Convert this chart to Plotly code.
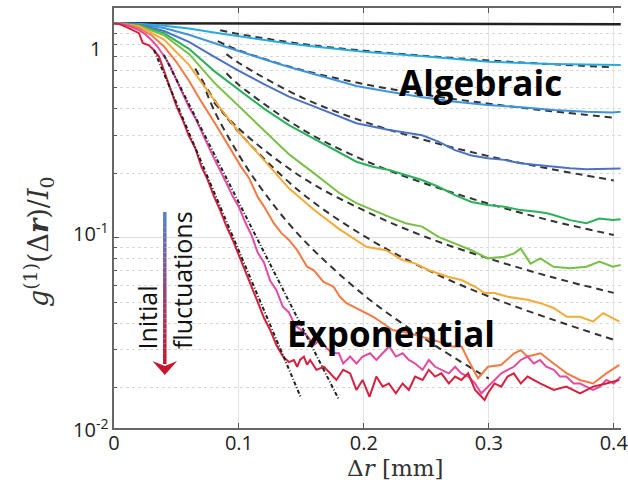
import plotly.graph_objects as go

# ---------------- data ----------------
x_black = [0, 0.1, 0.2, 0.3, 0.4056]
y_black = [1.0, 0.998, 0.995, 0.992, 0.99]

x_cyan = [0, 0.02, 0.04, 0.06, 0.08, 0.1, 0.12, 0.14, 0.16, 0.18, 0.2, 0.25, 0.3, 0.35, 0.4, 0.4056]
y_cyan = [1, 0.995, 0.975, 0.945, 0.905, 0.87, 0.835, 0.805, 0.78, 0.757, 0.737, 0.70, 0.662, 0.646, 0.64, 0.639]

x_blue = [0, 0.02, 0.04, 0.06, 0.08, 0.1, 0.12, 0.14, 0.16, 0.18, 0.194, 0.22, 0.247, 0.273, 0.299, 0.326, 0.352, 0.378, 0.399, 0.4055]
y_blue = [1, 0.99, 0.95, 0.885, 0.81, 0.74, 0.68, 0.625, 0.58, 0.54, 0.51, 0.48, 0.452, 0.431, 0.416, 0.406, 0.394, 0.387, 0.384, 0.387]

x_dblue = [0, 0.02, 0.04, 0.06, 0.08, 0.1, 0.12, 0.14, 0.16, 0.18, 0.194, 0.2203, 0.2466, 0.2597, 0.2729, 0.2861,
           0.2992, 0.3124, 0.3255, 0.3387, 0.3518, 0.365, 0.3781, 0.3992, 0.4055]
y_dblue = [1, 0.985, 0.92, 0.82, 0.70, 0.60, 0.52, 0.455, 0.41, 0.37, 0.3417, 0.3179, 0.3006, 0.2806, 0.2562, 0.242,
           0.2345, 0.2307, 0.2223, 0.2182, 0.2142, 0.2106, 0.2085, 0.2085, 0.21]

x_green = [0, 0.02, 0.04, 0.06, 0.08, 0.1, 0.12, 0.14, 0.16, 0.18, 0.194, 0.2071, 0.2203, 0.2334, 0.2466, 0.2597,
           0.2729, 0.2861, 0.2992, 0.3124, 0.3255, 0.3387, 0.3466, 0.3518, 0.365, 0.3781, 0.3886, 0.3992, 0.4055]
y_green = [1, 0.98, 0.90, 0.76, 0.60, 0.49, 0.40, 0.335, 0.29, 0.25, 0.2262, 0.2144, 0.207, 0.1962, 0.1858, 0.1728,
           0.158, 0.1468, 0.142, 0.1395, 0.1345, 0.132, 0.13, 0.1276, 0.1208, 0.1168, 0.1229, 0.1208, 0.122]

x_lgreen = [0, 0.02, 0.04, 0.06, 0.08, 0.1, 0.12, 0.14, 0.16, 0.18, 0.194, 0.2071, 0.2203, 0.2334, 0.2466, 0.2597,
            0.2729, 0.2861, 0.2992, 0.3124, 0.3203, 0.3255, 0.3334, 0.3413, 0.3518, 0.365, 0.3781, 0.3886, 0.3992, 0.4055]
y_lgreen = [1, 0.975, 0.88, 0.72, 0.53, 0.41, 0.32, 0.245, 0.20, 0.162, 0.145, 0.1345, 0.125, 0.1168, 0.1127, 0.1009,
            0.094, 0.0874, 0.0801, 0.0815, 0.0845, 0.0892, 0.0757, 0.0801, 0.0732, 0.072, 0.0732, 0.0774, 0.0732, 0.0746]

x_yellow = [0, 0.02, 0.04, 0.06, 0.08, 0.1, 0.12, 0.14, 0.16, 0.18, 0.2019, 0.2177, 0.2308, 0.2414, 0.2519, 0.2677,
            0.2782, 0.2887, 0.2966, 0.3045, 0.3151, 0.3308, 0.3414, 0.3519, 0.3624, 0.373, 0.3835, 0.3914, 0.4045]
y_yellow = [1, 0.97, 0.84, 0.64, 0.44, 0.31, 0.23, 0.17, 0.135, 0.11, 0.0907, 0.0875, 0.0786, 0.0757, 0.0705, 0.0656,
            0.0635, 0.0592, 0.0552, 0.0552, 0.053, 0.0514, 0.0495, 0.047, 0.0428, 0.0428, 0.0406, 0.0445, 0.0406]

x_orange = [0, 0.01, 0.02, 0.03, 0.04, 0.05, 0.06, 0.07, 0.0808, 0.09, 0.1018, 0.108, 0.115, 0.12, 0.128, 0.134,
            0.14, 0.1466, 0.1545, 0.16, 0.1677, 0.1756, 0.1808, 0.1861, 0.1966, 0.2072, 0.215, 0.2229, 0.235,
            0.2466, 0.258, 0.2703, 0.2782, 0.2835, 0.2914, 0.2993, 0.3098, 0.3203, 0.3256, 0.3308, 0.3414,
            0.3519, 0.3624, 0.373, 0.3835, 0.394, 0.4045]
y_orange = [1, 0.99, 0.95, 0.88, 0.78, 0.66, 0.54, 0.43, 0.342, 0.28, 0.214, 0.19, 0.155, 0.14, 0.1165, 0.105,
            0.0976, 0.0875, 0.0732, 0.0705, 0.0622, 0.0592, 0.053, 0.0495, 0.046, 0.0428, 0.040, 0.0371, 0.036,
            0.0345, 0.033, 0.0311, 0.0311, 0.0269, 0.0221, 0.025, 0.0255, 0.0289, 0.0299, 0.0279, 0.0289,
            0.0259, 0.0233, 0.0217, 0.0209, 0.0233, 0.0255]

x_magenta = [0, 0.01, 0.02, 0.025, 0.03, 0.035, 0.04, 0.045, 0.05, 0.055, 0.06, 0.065, 0.07, 0.075, 0.08, 0.085,
             0.09, 0.095, 0.1, 0.105, 0.11, 0.115, 0.12, 0.125, 0.13, 0.135, 0.14, 0.145, 0.15, 0.155, 0.16,
             0.165, 0.17, 0.175, 0.18, 0.1835, 0.189, 0.194,
             0.199, 0.205, 0.21, 0.215, 0.2203, 0.2256, 0.231, 0.236, 0.241, 0.247, 0.252, 0.257, 0.262, 0.268,
             0.273, 0.278, 0.2835, 0.289, 0.294, 0.2993, 0.3045, 0.31, 0.315, 0.32, 0.3256, 0.331, 0.336, 0.341,
             0.346, 0.352, 0.357, 0.362, 0.368, 0.373, 0.378, 0.3835, 0.389, 0.394, 0.4, 0.4055]
y_magenta = [1, 0.98, 0.93, 0.89, 0.836, 0.775, 0.704, 0.632, 0.544, 0.473, 0.407, 0.362, 0.311, 0.271, 0.235, 0.207,
             0.18, 0.156, 0.139, 0.118, 0.103, 0.0852, 0.0767, 0.0629, 0.0569, 0.0478, 0.0448, 0.039, 0.037, 0.0346, 0.0316,
             0.0334, 0.0306, 0.029, 0.0289, 0.0259, 0.0279, 0.0259,
             0.0279, 0.0289, 0.0269, 0.0289, 0.0311, 0.0279, 0.0289, 0.0269, 0.0259, 0.0242, 0.0269, 0.025, 0.0242, 0.0233,
             0.025, 0.0233, 0.0225, 0.0209, 0.0188, 0.0202, 0.0217, 0.0233, 0.0242, 0.025, 0.0269, 0.0279, 0.0259, 0.0269,
             0.025, 0.0242, 0.0225, 0.0225, 0.0209, 0.0209, 0.0202, 0.0195, 0.0202, 0.0217, 0.0209, 0.0225]

x_red = [0, 0.005, 0.01, 0.015, 0.02, 0.023, 0.028, 0.032, 0.036, 0.041, 0.045, 0.05, 0.055, 0.06, 0.065, 0.07,
         0.075, 0.08, 0.085, 0.09, 0.095, 0.1, 0.105, 0.11, 0.115, 0.12, 0.125, 0.13, 0.135, 0.14, 0.144, 0.1466,
         0.149, 0.152, 0.1545, 0.157, 0.162, 0.168, 0.173, 0.178, 0.1835, 0.189, 0.194, 0.199, 0.2045, 0.21,
         0.215, 0.22, 0.2256, 0.231, 0.236, 0.241, 0.247, 0.252, 0.257, 0.262, 0.268, 0.273, 0.278, 0.2835,
         0.289, 0.294, 0.2966, 0.2993, 0.3045, 0.31, 0.315, 0.32, 0.3256, 0.331, 0.341, 0.352, 0.362, 0.373,
         0.378, 0.3835, 0.394, 0.4045]
y_red = [1.0, 0.99, 0.96, 0.93, 0.90, 0.81, 0.79, 0.75, 0.70, 0.58, 0.50, 0.411, 0.354, 0.298, 0.262, 0.214,
         0.186, 0.156, 0.134, 0.113, 0.0976, 0.0822, 0.0693, 0.0588, 0.0502, 0.0423, 0.0371, 0.0316, 0.028, 0.0263, 0.0269, 0.025,
         0.027, 0.0279, 0.0256, 0.0269, 0.0242, 0.025, 0.0233, 0.0217, 0.0242, 0.0233, 0.0195, 0.0217, 0.0181, 0.0225,
         0.0202, 0.0209, 0.0188, 0.0209, 0.0195, 0.0225, 0.0217, 0.0242, 0.0225, 0.0233, 0.0209, 0.0225, 0.0217, 0.0233,
         0.0195, 0.0181, 0.0175, 0.0188, 0.0209, 0.0202, 0.0225, 0.0233, 0.0209, 0.0225, 0.0209, 0.0195, 0.0202, 0.0188,
         0.0195, 0.0202, 0.0209, 0.0217]

# fitted curves (dashed): algebraic fits
fit_alg_x = [
    [0.085, 0.1, 0.15, 0.2, 0.25, 0.3, 0.35, 0.4],
    [0.083, 0.1, 0.15, 0.2, 0.25, 0.3, 0.35, 0.4],
    [0.09, 0.1, 0.15, 0.2, 0.25, 0.3, 0.35, 0.4],
    [0.09, 0.1, 0.15, 0.2, 0.25, 0.3, 0.35, 0.4],
    [0.08, 0.1, 0.15, 0.2, 0.25, 0.3, 0.35, 0.4],
    [0.065, 0.08, 0.1, 0.15, 0.2, 0.25, 0.3, 0.35, 0.4],
    [0.0705, 0.08, 0.1, 0.12, 0.15, 0.2, 0.25, 0.3],
]
fit_alg_y = [
    [0.928, 0.891, 0.802, 0.745, 0.704, 0.671, 0.645, 0.623],
    [0.825, 0.748, 0.606, 0.521, 0.463, 0.422, 0.389, 0.363],
    [0.718, 0.653, 0.452, 0.348, 0.284, 0.24, 0.209, 0.185],
    [0.585, 0.516, 0.322, 0.23, 0.178, 0.144, 0.12, 0.103],
    [0.428, 0.322, 0.192, 0.134, 0.1005, 0.08, 0.0656, 0.0553],
    [0.616, 0.442, 0.31, 0.162, 0.102, 0.0711, 0.0532, 0.0417, 0.0334],
    [0.543, 0.394, 0.243, 0.163, 0.10, 0.054, 0.0334, 0.022],
]
# exponential fits (dash-dot)
fit_exp_x = [[0.032, 0.1493], [0.040, 0.1795]]
fit_exp_y = [[0.751, 0.01813], [0.711, 0.0178]]

series = [
    (x_black, y_black, "#222222", 2.5),
    (x_cyan, y_cyan, "#27aae1", 2),
    (x_blue, y_blue, "#3f94dc", 2),
    (x_dblue, y_dblue, "#4b72c4", 2),
    (x_green, y_green, "#2bb05c", 2),
    (x_lgreen, y_lgreen, "#78c045", 2),
    (x_yellow, y_yellow, "#f5aa3a", 2),
    (x_orange, y_orange, "#f47a45", 2),
    (x_magenta, y_magenta, "#e44aa0", 2),
    (x_red, y_red, "#d6213e", 2),
]

x_ticks = [0, 0.1, 0.2, 0.3, 0.4]
x_ticktext = ["0", "0.1", "0.2", "0.3", "0.4"]
y_labels = ["1", "10<sup>-1</sup>", "10<sup>-2</sup>"]

# ---------------- figure ----------------
W, H = 628, 482
L, R, T, B = 114, 0, 8, 54
PW, PH = W - L - R, H - T - B


def px(X):
    return (X - L) / PW


def py(Y):
    return (H - B - Y) / PH


fig = go.Figure()
for xs, ys in zip(fit_alg_x, fit_alg_y):
    fig.add_trace(go.Scatter(x=xs, y=ys, mode="lines", line=dict(color="#333", width=2, dash="7px,5px", shape="spline"),
                             hoverinfo="skip", showlegend=False))
for xs, ys, col, w in series:
    fig.add_trace(go.Scatter(x=xs, y=ys, mode="lines", line=dict(color=col, width=w), showlegend=False))
for xs, ys in zip(fit_exp_x, fit_exp_y):
    fig.add_trace(go.Scatter(x=xs, y=ys, mode="lines", line=dict(color="#222", width=2, dash="4px,2px,1px,2px"),
                             hoverinfo="skip", showlegend=False))

minor_vals = [k * 10.0 ** e for e in (-2, -1) for k in range(2, 10)]

fig.update_layout(
    width=W, height=H, margin=dict(l=L, r=R, t=T, b=B),
    paper_bgcolor="white", plot_bgcolor="white",
    font=dict(family="Open Sans", size=20, color="#222"),
    xaxis=dict(range=[0, 0.4058], tickvals=x_ticks, ticktext=x_ticktext, ticks="inside", ticklen=5,
               tickcolor="#555", showline=True, linecolor="#666", linewidth=2, mirror="ticks",
               showgrid=True, gridcolor="#e3e3e3", gridwidth=1, zeroline=False, ticklabeloverflow="allow",
               ticklabelstandoff=-4,
               tickfont=dict(family="Open Sans", size=20, color="#222")),
    yaxis=dict(type="log", range=[-1.8876, 0.0714], tickvals=[0.1, 1], showticklabels=False,
               ticks="inside", ticklen=5, tickcolor="#555", showline=True, linecolor="#666", linewidth=2,
               showgrid=True, gridcolor="#dedede", gridwidth=1, zeroline=False,
               minor=dict(tickvals=minor_vals, ticks="inside", ticklen=3, tickcolor="#555",
                          showgrid=True, gridcolor="#d8d8d8", griddash="dot", gridwidth=1)),
)


def note(X, Y, text, size, family="Open Sans", color="#222", angle=0):
    return dict(x=px(X), y=py(Y), xref="paper", yref="paper", text=text, showarrow=False,
                xanchor="center", yanchor="middle", textangle=angle,
                font=dict(family=family, size=size, color=color))


ann = []
# y tick labels placed as in the picture
for txt, X, Y in zip(y_labels, [95, 90, 90], [48, 232, 428]):
    ann.append(note(X, Y, txt, 20))
# axis titles
ann.append(note(37, 242, "<i>g</i><sup>(1)</sup>(Δ<b><i>r</i></b>)/<i>I</i><sub>0</sub>", 27,
                family="DejaVu Serif", color="#333", angle=-90))
ann.append(note(399, 468, "Δ<i>r</i> [mm]", 23, family="DejaVu Serif", color="#333"))
# big labels
ann.append(note(486, 82, "<b>Algebraic</b>", 35, color="black"))
ann.append(note(395, 333, "<b>Exponential</b>", 35, color="black"))
ann.append(note(147, 318, "Initial", 25, color="#111", angle=-90))
ann.append(note(183, 280, "fluctuations", 25, color="#111", angle=-90))
fig.update_layout(annotations=ann)

# gradient arrow (blue -> red)
shapes = []
n = 30
c0, c1 = (86, 128, 200), (200, 20, 45)
y_top, y_bot = 212, 364
for i in range(n):
    t = i / (n - 1)
    col = "rgb(%d,%d,%d)" % tuple(int(a + (b - a) * t) for a, b in zip(c0, c1))
    ya = y_top + (y_bot - y_top) * i / n
    yb = y_top + (y_bot - y_top) * (i + 1) / n
    shapes.append(dict(type="line", xref="paper", yref="paper", x0=px(165.5), x1=px(165.5), y0=py(ya), y1=py(yb),
                       line=dict(color=col, width=3.5)))
head = "M %f,%f L %f,%f L %f,%f L %f,%f Z" % (px(153), py(361), px(165.5), py(366), px(178), py(361), px(165.5), py(375))
shapes.append(dict(type="path", xref="paper", yref="paper", path=head, fillcolor="#c8142d", line=dict(width=0)))
fig.update_layout(shapes=shapes)

fig.write_html("out.html")
